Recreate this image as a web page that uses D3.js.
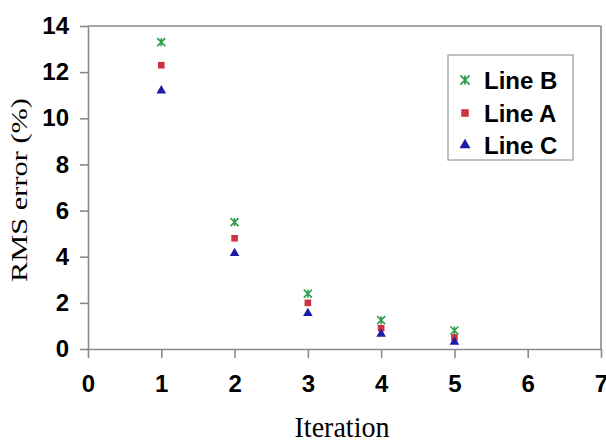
<!DOCTYPE html>
<html>
<head>
<meta charset="utf-8">
<script src="https://cdn.jsdelivr.net/npm/d3@7"></script>
<style>
body { margin: 0; background: #fff; }
.axis path, .axis line { stroke: #8a8a8a; stroke-width: 1.6; }
</style>
</head>
<body>
<div id="chart"></div>
<script>
// data
var iterations = [1, 2, 3, 4, 5];
var lineB = [13.3, 5.5, 2.4, 1.25, 0.8];
var lineA = [12.3, 4.8, 2.0, 0.9, 0.5];
var lineC = [11.2, 4.15, 1.55, 0.65, 0.3];
var seriesNames = ["Line B", "Line A", "Line C"];
var xTicks = [0, 1, 2, 3, 4, 5, 6, 7];
var yTicks = [0, 2, 4, 6, 8, 10, 12, 14];

var width = 606, height = 442;
var plotL = 88, plotR = 601, plotT = 26, plotB = 349;

var svg = d3.select("#chart").append("svg").attr("width", width).attr("height", height);

var x = d3.scaleLinear().domain([0, 7]).range([plotL, plotR]);
var y = d3.scaleLinear().domain([0, 14]).range([plotB, plotT]);

// star marker: X with a vertical bar, like the spreadsheet one
var star = {
    draw: function(ctx, size){
        var r = Math.sqrt(size) / 2;
        ctx.moveTo(-r, -r); ctx.lineTo(r, r);
        ctx.moveTo(r, -r); ctx.lineTo(-r, r);
        ctx.moveTo(0, -r); ctx.lineTo(0, r);
    }
};

var series = [
    {name: seriesNames[0], values: lineB, type: star, color: "#2f9e4a", size: 64, stroke: true},
    {name: seriesNames[1], values: lineA, type: d3.symbolSquare, color: "#cc3340", size: 44, stroke: false},
    {name: seriesNames[2], values: lineC, type: d3.symbolTriangle, color: "#1c1ca6", size: 40, stroke: false}
];

// frame top / right
svg.append("line").attr("x1", plotL).attr("x2", plotR).attr("y1", plotT).attr("y2", plotT)
    .attr("stroke", "#8a8a8a").attr("stroke-width", 1.6);
svg.append("line").attr("x1", plotR).attr("x2", plotR).attr("y1", plotT).attr("y2", plotB)
    .attr("stroke", "#8a8a8a").attr("stroke-width", 1.6);

var xAxis = svg.append("g").attr("class", "axis").attr("transform", "translate(0," + plotB + ")")
    .call(d3.axisBottom(x).tickValues(xTicks).tickFormat(d3.format("d")).tickSizeInner(9).tickSizeOuter(0).tickPadding(17));
var yAxis = svg.append("g").attr("class", "axis").attr("transform", "translate(" + plotL + ",0)")
    .call(d3.axisLeft(y).tickValues(yTicks).tickFormat(d3.format("d")).tickSizeInner(8).tickSizeOuter(0).tickPadding(11));

svg.selectAll(".axis .tick text")
    .attr("font-family", "'Liberation Sans', Arial, sans-serif")
    .attr("font-weight", "bold").attr("font-size", 24).attr("fill", "#000");

// points
series.forEach(function(s){
    var sym = d3.symbol().type(s.type).size(s.size);
    svg.append("g").selectAll("path").data(s.values).enter().append("path")
        .attr("d", sym)
        .attr("transform", function(d, i){ return "translate(" + x(iterations[i]) + "," + y(d) + ")"; })
        .attr("fill", s.stroke ? "none" : s.color)
        .attr("stroke", s.stroke ? s.color : "none")
        .attr("stroke-width", 1.6);
});

// axis titles
svg.append("text").attr("x", 342).attr("y", 437).attr("text-anchor", "middle")
    .attr("textLength", 95).attr("lengthAdjust", "spacingAndGlyphs")
    .style("font-family", "'Liberation Serif', 'Times New Roman', serif").style("font-size", "30px")
    .text("Iteration");
svg.append("text").attr("transform", "translate(27,190) rotate(-90)").attr("text-anchor", "middle")
    .attr("textLength", 184).attr("lengthAdjust", "spacingAndGlyphs")
    .style("font-family", "'Liberation Serif', 'Times New Roman', serif").style("font-size", "24px")
    .text("RMS error (%)");

// legend
var legend = svg.append("g");
legend.append("rect").attr("x", 448).attr("y", 55).attr("width", 125).attr("height", 105)
    .attr("fill", "#fff").attr("stroke", "#999").attr("stroke-width", 1.2);
var rowY = [80, 113, 145];
series.forEach(function(s, i){
    var sym = d3.symbol().type(s.type).size(s.size * 1.3);
    legend.append("path").attr("d", sym)
        .attr("transform", "translate(465," + rowY[i] + ")")
        .attr("fill", s.stroke ? "none" : s.color)
        .attr("stroke", s.stroke ? s.color : "none")
        .attr("stroke-width", 1.8);
    legend.append("text").attr("x", 484).attr("y", rowY[i]).attr("dy", "0.36em")
        .style("font-family", "'Liberation Sans', Arial, sans-serif").style("font-weight", "bold")
        .style("font-size", "24px").text(s.name);
});
</script>
</body>
</html>
